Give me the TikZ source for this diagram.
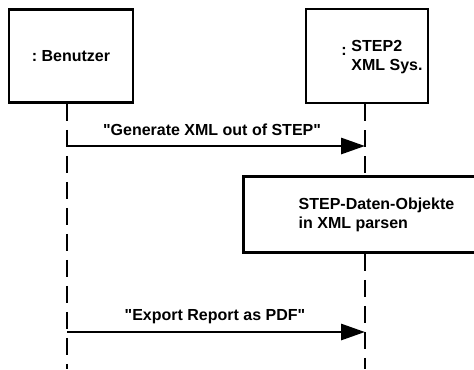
\documentclass[tikz,border=0pt]{standalone}
\usepackage{fontspec}
\setmainfont{Liberation Sans}[Ligatures=TeXOff]
\usetikzlibrary{arrows.meta,positioning}

\begin{document}
\begin{tikzpicture}[x=0.75pt,y=-0.75pt,line width=2.2pt,
    lbl/.style={font=\fontsize{12}{14.3}\selectfont\bfseries},
    actor/.style={draw,lbl,inner sep=0pt},
    life/.style={dash pattern=on 12.75pt off 6.75pt},
    msg/.style={-{Triangle[length=18pt,width=12pt]}}]
    \useasboundingbox (0,0) rectangle (474,369);

    % the two objects with their lifelines
    \node[actor,minimum width=93pt,minimum height=69.5pt] (ben) at (71,56) {:\ Benutzer};
    \node[actor,minimum width=91.5pt,minimum height=70.5pt] (sys) at (367,56) {};
    \node[lbl,anchor=west,inner sep=0pt] (sysname) at (340,57) {\raisebox{4pt}{:}\hspace{3.5pt}\begin{tabular}{@{}l@{}}STEP2\\XML Sys.\end{tabular}};
    \coordinate (benL) at (67,369);
    \coordinate (sysL) at (365,369);

    % activation on the system lifeline, runs off the right side
    \node[draw,lbl,anchor=north west,align=left,minimum width=199.5pt,minimum height=57pt] (parse) at (242,175) {STEP-Daten-Objekte\\in XML parsen};

    \draw[life] (ben.south -| benL) -- (benL);
    \draw[life] (sys.south -| sysL) -- (parse.north -| sysL);
    \draw[life] (parse.south -| sysL) -- (sysL);

    % messages
    \coordinate (m1a) at (67,146);
    \coordinate (m1b) at (365,146);
    \coordinate (m2a) at (67,332);
    \coordinate (m2b) at (365,332);
    \draw[msg] (m1a) -- (m1b);
    \draw[msg] (m2a) -- (m2b);
    \node[lbl] (m1lbl) at (212,130) {"Generate XML out of STEP"};
    \node[lbl] (m2lbl) at (215,317) {"Export Report as PDF"};
  \end{tikzpicture}
\end{document}
